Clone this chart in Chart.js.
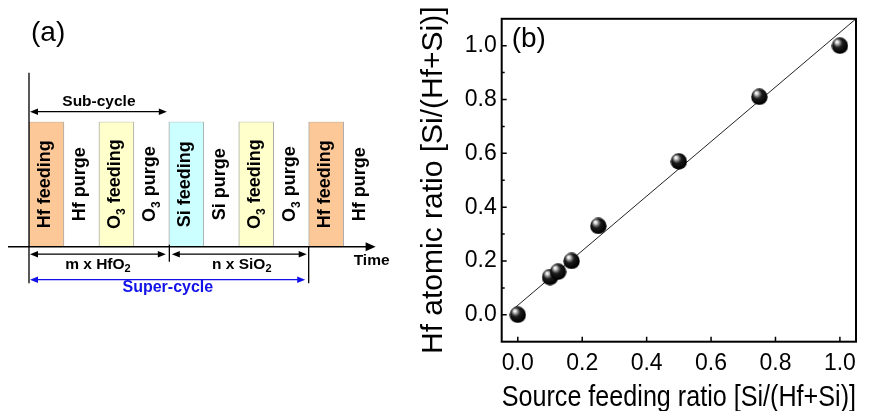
<!DOCTYPE html>
<html>
<head>
<meta charset="utf-8">
<script src="https://cdn.jsdelivr.net/npm/chart.js@4.4.0/dist/chart.umd.min.js"></script>
<style>
  html, body { margin: 0; padding: 0; background: #fff; }
  #wrap { position: relative; width: 872px; height: 411px; overflow: hidden; }
  canvas { position: absolute; top: 0; }
  #seq { left: 0; }
  #ratio { left: 400px; }
</style>
</head>
<body>
<div id="wrap">
  <canvas id="seq" width="400" height="411"></canvas>
  <canvas id="ratio" width="472" height="411"></canvas>
</div>
<script>
// ---------- (a) ALD pulse sequence ----------
const stepLabels = ['Hf feeding', 'Hf purge', 'O₃ feeding', 'O₃ purge', 'Si feeding',
                    'Si purge', 'O₃ feeding', 'O₃ purge', 'Hf feeding', 'Hf purge'];
const pulseOn = [1, null, 1, null, 1, null, 1, null, 1, null];
const subCycleSteps = [0, 4];     // Hf feeding .. O3 purge
const hfo2Steps = [0, 4];
const sio2Steps = [4, 8];
const superCycleSteps = [0, 8];
const cycleTexts = { sub: 'Sub-cycle', hfo2: 'm x HfO₂', sio2: 'n x SiO₂', sup: 'Super-cycle', time: 'Time' };

// ---------- (b) composition ----------
const sourceRatio = [0, 0.1, 0.125, 0.167, 0.25, 0.5, 0.75, 1.0];
const atomicRatio = [0, 0.14, 0.16, 0.2, 0.33, 0.57, 0.81, 1.0];
const fitX = [-0.02, 1.05];
const fitY = [0.015, 1.10];
const xTickValues = [0, 0.2, 0.4, 0.6, 0.8, 1.0];
const yTickValues = [0, 0.2, 0.4, 0.6, 0.8, 1.0];
const yMinorValues = [0.1, 0.3, 0.5, 0.7, 0.9];

const FONT = '"Liberation Sans", Arial, Helvetica, sans-serif';
const pulseColors = ['#FDC897', 'transparent', '#FFFFCC', 'transparent', '#CCFFFF',
                     'transparent', '#FFFFCC', 'transparent', '#FDC897', 'transparent'];

// text with subscript digits (₂, ₃) drawn smaller and lowered
const SUB = { '₂': '2', '₃': '3' };
function richRuns(text) {
  const runs = [];
  for (const ch of text) {
    const sub = ch in SUB;
    const c = sub ? SUB[ch] : ch;
    const last = runs[runs.length - 1];
    if (last && last.sub === sub) last.t += c; else runs.push({ t: c, sub });
  }
  return runs;
}
function drawRich(ctx, text, x, y, size, weight, color, align) {
  const runs = richRuns(text);
  const subSize = Math.round(size * 0.68);
  const fontOf = s => `${weight} ${s}px ${FONT}`;
  let w = 0;
  runs.forEach(r => { ctx.font = fontOf(r.sub ? subSize : size); r.w = ctx.measureText(r.t).width; w += r.w; });
  let cx = align === 'center' ? x - w / 2 : x;
  ctx.fillStyle = color;
  ctx.textBaseline = 'alphabetic';
  ctx.textAlign = 'left';
  runs.forEach(r => {
    ctx.font = fontOf(r.sub ? subSize : size);
    ctx.fillText(r.t, cx, r.sub ? y + size * 0.24 : y);
    cx += r.w;
  });
}
function arrowHead(ctx, x, y, dir, len, half) {
  ctx.beginPath();
  ctx.moveTo(x, y);
  ctx.lineTo(x - dir * len, y - half);
  ctx.lineTo(x - dir * len, y + half);
  ctx.closePath();
  ctx.fill();
}
function dblArrow(ctx, x1, x2, y, color) {
  ctx.strokeStyle = color; ctx.fillStyle = color; ctx.lineWidth = 1.3;
  ctx.beginPath(); ctx.moveTo(x1 + 4, y); ctx.lineTo(x2 - 4, y); ctx.stroke();
  arrowHead(ctx, x1, y, -1, 8, 3.3);
  arrowHead(ctx, x2, y, 1, 8, 3.3);
}

const seqPlugin = {
  id: 'seqAnnot',
  afterDatasetsDraw(chart) {
    const { ctx, chartArea: a, scales: { x, y } } = chart;
    const edge = i => x.getPixelForValue(i - 0.5);
    const base = y.getPixelForValue(0);
    const top = y.getPixelForValue(1);
    ctx.save();

    // step names, rotated inside each slot
    stepLabels.forEach((lab, i) => {
      ctx.save();
      ctx.translate(x.getPixelForValue(i) + 4, (top + base) / 2);
      ctx.rotate(-Math.PI / 2);
      drawRich(ctx, lab, 0, 0, 18, 'bold', '#000', 'center');
      ctx.restore();
    });

    // time axis
    ctx.strokeStyle = '#000'; ctx.fillStyle = '#000'; ctx.lineWidth = 1.5;
    ctx.beginPath(); ctx.moveTo(a.left - 21, base); ctx.lineTo(a.right - 8, base); ctx.stroke();
    arrowHead(ctx, a.right - 3, base, 1, 10, 4.5);

    // boundary lines
    ctx.lineWidth = 1.3;
    ctx.beginPath();
    ctx.moveTo(edge(0), top - 49); ctx.lineTo(edge(0), base + 36.5);
    ctx.moveTo(edge(sio2Steps[0]) + 0.5, base - 2); ctx.lineTo(edge(sio2Steps[0]) + 0.5, base + 15);
    ctx.moveTo(edge(superCycleSteps[1]), base); ctx.lineTo(edge(superCycleSteps[1]), base + 36.5);
    ctx.stroke();

    // cycle arrows
    dblArrow(ctx, edge(subCycleSteps[0]) + 1, edge(subCycleSteps[1]) - 2, top - 10, '#000');
    dblArrow(ctx, edge(hfo2Steps[0]) + 1, edge(hfo2Steps[1]) - 3, base + 7.5, '#000');
    dblArrow(ctx, edge(sio2Steps[0]) + 3, edge(sio2Steps[1]) - 2, base + 7.5, '#000');
    dblArrow(ctx, edge(superCycleSteps[0]) + 1, edge(superCycleSteps[1]) - 3.5, base + 33, '#1212e8');

    // cycle labels
    drawRich(ctx, cycleTexts.sub, (edge(0) + edge(4)) / 2, top - 15.5, 15.5, 'bold', '#000', 'center');
    drawRich(ctx, cycleTexts.hfo2, (edge(0) + edge(4)) / 2 - 1, base + 22, 15.5, 'bold', '#000', 'center');
    drawRich(ctx, cycleTexts.sio2, (edge(4) + edge(8)) / 2 + 3, base + 22, 15.5, 'bold', '#000', 'center');
    drawRich(ctx, cycleTexts.sup, (edge(0) + edge(8)) / 2 - 1, base + 45.5, 16, 'bold', '#1212e8', 'center');
    drawRich(ctx, cycleTexts.time, a.right - 7, base + 18.5, 15.5, 'bold', '#000', 'center');

    // panel letter
    drawRich(ctx, '(a)', 31, 41, 28, 'normal', '#000', 'left');
    ctx.restore();
  }
};

new Chart(document.getElementById('seq'), {
  type: 'bar',
  data: {
    labels: stepLabels,
    datasets: [{
      data: pulseOn,
      backgroundColor: pulseColors,
      borderColor: '#a8a8a8',
      borderWidth: 1,
      borderSkipped: false,
      barPercentage: 1,
      categoryPercentage: 1
    }]
  },
  options: {
    responsive: false,
    animation: false,
    devicePixelRatio: 1,
    layout: { padding: { left: 29, right: 21.4, top: 121.7, bottom: 164.3 } },
    plugins: { legend: { display: false }, tooltip: { enabled: false } },
    scales: {
      x: { display: false },
      y: { display: false, min: 0, max: 1 }
    }
  },
  plugins: [seqPlugin]
});

// ---------- (b) scatter + linear fit ----------
function makeBall(d) {
  const c = document.createElement('canvas');
  c.width = c.height = d;
  const g = c.getContext('2d');
  const r = d / 2;
  const grad = g.createRadialGradient(r - 3.2, r - 4, 0.3, r - 1, r - 1.5, r + 0.5);
  grad.addColorStop(0, '#ffffff');
  grad.addColorStop(0.12, '#e2e2e2');
  grad.addColorStop(0.3, '#7c7c7c');
  grad.addColorStop(0.5, '#1c1c1c');
  grad.addColorStop(1, '#000000');
  g.fillStyle = grad;
  g.beginPath(); g.arc(r, r, r - 0.3, 0, Math.PI * 2); g.fill();
  return c;
}
const ball = makeBall(17);

const framePlugin = {
  id: 'frameTicks',
  afterDatasetsDraw(chart) {
    const { ctx, chartArea: a, scales: { x, y } } = chart;
    ctx.save();
    ctx.strokeStyle = '#000';
    ctx.lineWidth = 1.5;
    ctx.beginPath();
    xTickValues.forEach(v => { const px = x.getPixelForValue(v); ctx.moveTo(px, a.bottom); ctx.lineTo(px, a.bottom - 5); });
    yTickValues.forEach(v => { const py = y.getPixelForValue(v); ctx.moveTo(a.left, py); ctx.lineTo(a.left + 5, py); });
    yMinorValues.forEach(v => { const py = y.getPixelForValue(v); ctx.moveTo(a.left, py); ctx.lineTo(a.left + 3, py); });
    ctx.stroke();
    ctx.lineWidth = 2;
    ctx.strokeRect(a.left, a.top, a.right - a.left, a.bottom - a.top);
    ctx.font = `28px ${FONT}`;
    ctx.fillStyle = '#000';
    ctx.textAlign = 'left';
    ctx.textBaseline = 'alphabetic';
    ctx.fillText('(b)', a.left + 10, a.top + 28);
    ctx.restore();
  }
};

new Chart(document.getElementById('ratio'), {
  type: 'scatter',
  data: {
    datasets: [
      {
        data: sourceRatio.map((v, i) => ({ x: v, y: atomicRatio[i] })),
        pointStyle: ball,
        pointRadius: 8.5,
        pointHoverRadius: 8.5
      },
      {
        type: 'line',
        data: fitX.map((v, i) => ({ x: v, y: fitY[i] })),
        borderColor: '#222',
        borderWidth: 1,
        pointRadius: 0,
        fill: false
      }
    ]
  },
  options: {
    responsive: false,
    animation: false,
    devicePixelRatio: 1,
    layout: { padding: { top: 10, right: 16, left: 0, bottom: 0 } },
    plugins: { legend: { display: false }, tooltip: { enabled: false } },
    scales: {
      x: {
        type: 'linear', min: -0.05, max: 1.05,
        grid: { display: false, drawTicks: false },
        border: { display: false },
        afterBuildTicks: s => { s.ticks = xTickValues.map(v => ({ value: v })); },
        afterFit: s => { s.height = 69.3; },
        ticks: { padding: 8, color: '#000', autoSkip: false, maxRotation: 0,
                 font: { size: 23, family: FONT }, callback: v => v.toFixed(1) },
        title: { display: true, text: 'Source feeding ratio [Si/(Hf+Si)]', color: '#000',
                 font: { size: 30, family: FONT }, padding: { top: 0, bottom: -5 } }
      },
      y: {
        type: 'linear', min: -0.1, max: 1.1,
        grid: { display: false, drawTicks: false },
        border: { display: false },
        afterBuildTicks: s => { s.ticks = yTickValues.map(v => ({ value: v })); },
        afterFit: s => { s.width = 101.7; },
        ticks: { padding: 5, color: '#000', autoSkip: false,
                 font: { size: 23, family: FONT }, callback: v => v.toFixed(1) },
        title: { display: true, text: 'Hf atomic ratio [Si/(Hf+Si)]', color: '#000',
                 font: { size: 30, family: FONT }, padding: { top: 16, bottom: 0 } }
      }
    }
  },
  plugins: [framePlugin]
});
</script>
</body>
</html>
